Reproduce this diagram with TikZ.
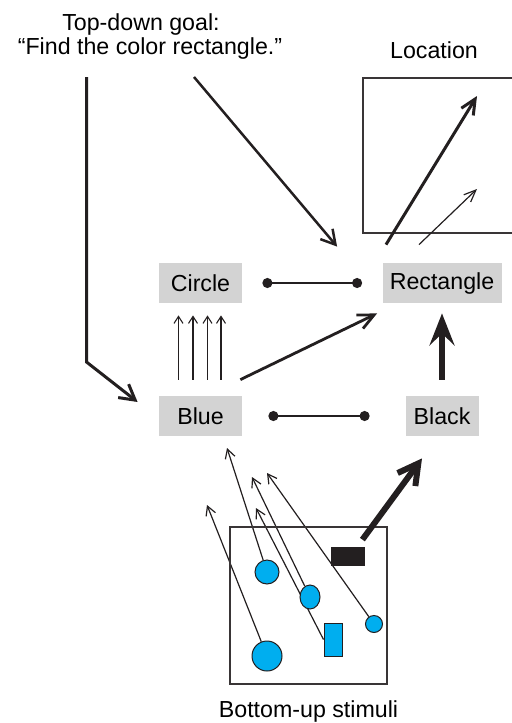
\documentclass[tikz,border=0pt]{standalone}
\usepackage{fontspec}
\setmainfont{Liberation Sans}
\usetikzlibrary{arrows.meta,shapes.geometric}
\pgfdeclarelayer{under}
\pgfsetlayers{under,main}
\definecolor{boxgray}{RGB}{211,211,211}
\definecolor{stimblue}{RGB}{0,174,239}
\definecolor{ink}{RGB}{35,31,32}

\begin{document}
\begin{tikzpicture}[x=0.5pt,y=-0.5pt,
  font=\fontsize{11.6}{13.9}\selectfont,
  txt/.style={anchor=base,inner sep=0},
  feat/.style={fill=boxgray,inner sep=0,minimum height=20pt},
  frame/.style={draw=ink!90,line width=0.65pt,inner sep=0},
  blob/.style={draw=ink,fill=stimblue,line width=0.5pt,inner sep=0},
  link/.style={draw=ink,line width=1pt,{Circle[length=5pt]}-{Circle[length=5pt]}},
  fanarr/.style={draw=ink,line width=0.55pt,-{Straight Barb[length=3.5pt,width=4.5pt]}},
  stimarr/.style={draw=ink,line width=0.6pt,-{Straight Barb[length=4.5pt,width=5pt]}},
  goalarr/.style={draw=ink,line width=1.25pt,-{Straight Barb[length=7pt,width=8pt]}},
  bendarr/.style={draw=ink,line width=1.5pt,miter limit=4,-{Straight Barb[length=7.5pt,width=8.5pt]}},
  medarr/.style={draw=ink,line width=1.4pt,-{Straight Barb[length=8pt,width=7.5pt]}},
  locthick/.style={draw=ink,line width=1.5pt,-{Straight Barb[length=7.5pt,width=7pt]}},
  locthin/.style={draw=ink,line width=0.6pt,-{Straight Barb[length=6pt,width=5pt]}},
  heavyarr/.style={draw=ink,line width=2.6pt,-{Stealth[length=16pt,width=12.5pt,inset=6pt]}},
  boldarr/.style={draw=ink,line width=3pt,-{Straight Barb[length=10pt,width=11pt]}}]

\useasboundingbox (0,0) rectangle (512,723);

% captions
\node[txt] (goal1) at (141,30.5) {Top-down goal:};
\node[txt] (goal2) at (150,54) {“Find the color rectangle.”};
\node[txt] (loclabel) at (434,58) {Location};
\node[txt] (stimlabel) at (308.5,717.5) {Bottom-up stimuli};

% feature maps
\node[feat,minimum width=41.5pt] (circle) at (200.5,283) {Circle};
\node[feat,minimum width=59.5pt] (rect) at (442,283) {Rectangle};
\node[feat,minimum width=41.5pt] (blue) at (200.5,416) {Blue};
\node[feat,minimum width=36.5pt] (black) at (442,416) {Black};

% location map
\node[frame,minimum width=76.5pt,minimum height=77.5pt] (locmap) at (439.5,155.5) {};
\coordinate (locA) at (477,96);
\coordinate (locB) at (477,189);

% stimulus display
\node[frame,minimum size=78.5pt] (stim) at (308.5,605.5) {};
\node[fill=ink,inner sep=0,minimum width=17pt,minimum height=9.5pt] (blk) at (348,556.5) {};
\node[blob,circle,minimum size=12pt] (c1) at (267,572) {};
\node[blob,ellipse,minimum width=10pt,minimum height=12pt] (c2) at (310,597) {};
\node[blob,circle,minimum size=8.5pt] (c3) at (374,624) {};
\node[blob,circle,minimum size=15pt] (c4) at (267,656) {};
\node[blob,minimum width=9pt,minimum height=16.5pt] (bar) at (333,639.5) {};

% free ends of the stimulus arrows
\coordinate (t1) at (207,505);
\coordinate (t2) at (227,448);
\coordinate (t3) at (252,477);
\coordinate (t4) at (256,508);
\coordinate (t5) at (267,473);

\begin{pgfonlayer}{under}
  \draw[stimarr] (c4) -- (t1);
  \draw[stimarr] (c1) -- (t2);
  \draw[stimarr] (c2) -- (t3);
  \draw[stimarr] (bar.west) -- (t4);
  \draw[stimarr] (c3) -- (t5);
\end{pgfonlayer}

% top-down goal
\coordinate (goalL) at (86.5,77);
\coordinate (elbow) at (86.5,362);
\coordinate (goalR) at (194,77);
\draw[bendarr] (goalL) -- (elbow) -- ([shift={(-21,-14)}]blue.west);
\draw[goalarr] (goalR) -- ([shift={(-45,-16)}]rect.north west);

% links between feature maps
\draw[link] ([shift={(20,0)}]circle.east) -- ([shift={(-20,0)}]rect.west);
\draw[link] ([shift={(26,0)}]blue.east) -- ([shift={(-35.5,0)}]black.west);
\foreach \dx in {-22,-7.5,7,20.5}
  \draw[fanarr] ([shift={(\dx,-16)}]blue.north) -- ([shift={(\dx,12)}]circle.south);
\draw[medarr] ([shift={(-2,-16)}]blue.north east) -- ([shift={(-5,10)}]rect.south west);
\draw[heavyarr] ([shift={(0,-16)}]black.north) -- ([shift={(0,10)}]rect.south);

% to the location map
\draw[locthick] ([shift={(-56,-18)}]rect.north) -- (locA);
\draw[locthin] ([shift={(-23,-18)}]rect.north) -- (locB);

% bottom-up drive from the black item
\draw[boldarr] ([shift={(-3,-7)}]blk.north east) -- ([shift={(-20,22)}]black.south);

\end{tikzpicture}
\end{document}
